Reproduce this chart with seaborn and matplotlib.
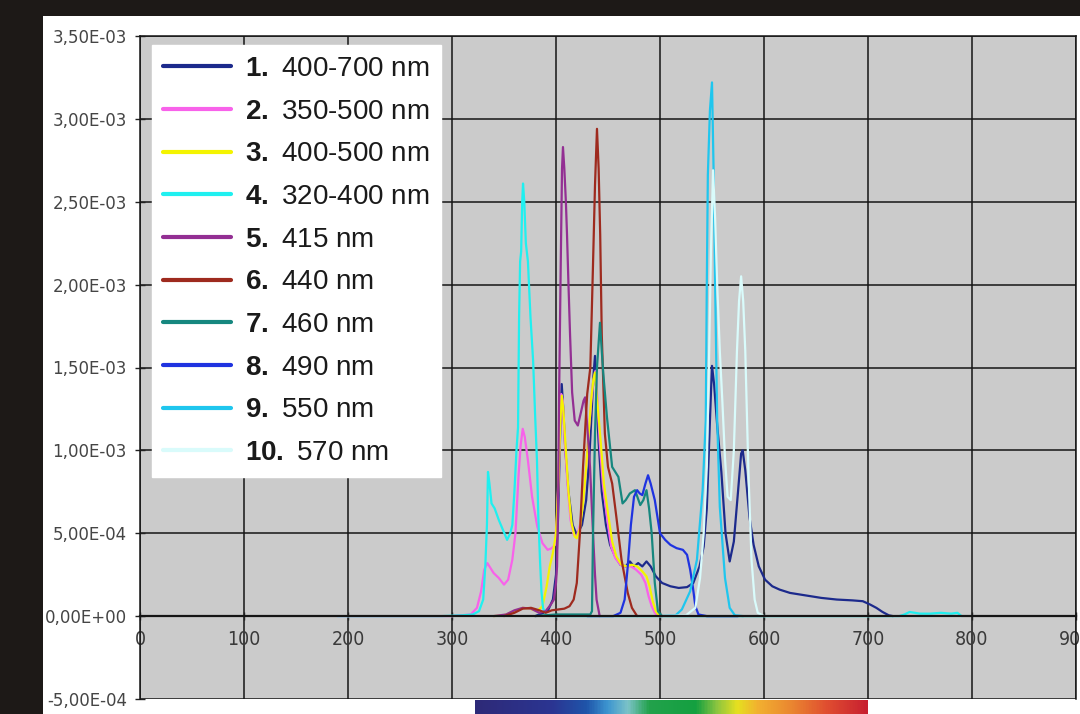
import numpy as np
import seaborn as sns
import matplotlib.pyplot as plt
from matplotlib.colors import LinearSegmentedColormap
from matplotlib.patches import Rectangle
from matplotlib.ticker import FuncFormatter

# spectra: wavelength (nm) and intensity in units of 1e-4
wl_1 = [380, 392, 397, 400, 402, 404, 405.5, 407, 409, 412, 416, 420, 425, 429, 432, 434, 436, 437.5, 439, 441,
        444, 448, 452, 457, 462, 467, 471, 475, 479, 483, 487, 491, 496, 502, 510, 518, 526, 532, 538, 542,
        545, 547, 549, 550, 552, 555, 559, 563, 567, 571, 575, 578, 579.5, 582, 586, 590, 595, 601, 608, 615,
        625, 640, 655, 670, 685, 695, 702, 708, 714, 720, 724]
val_1 = [0, 0.3, 1.0, 2.5, 6, 11, 14, 12.5, 10, 7.5, 5.5, 4.9, 5.5, 7, 9.5, 12, 14.5, 15.7, 13, 10.5,
         7.5, 5.5, 4.3, 3.6, 3.1, 3.0, 3.3, 3.0, 3.2, 3.0, 3.3, 3.0, 2.4, 2.0, 1.8, 1.7, 1.75, 2.0, 3.0, 4.2,
         6.5, 10, 13.5, 15.1, 14, 11.5, 8.7, 5, 3.3, 4.5, 7.5, 9.8, 10, 8.8, 6.0, 4.3, 3.0, 2.2, 1.8, 1.6,
         1.4, 1.25, 1.1, 1.0, 0.95, 0.9, 0.7, 0.5, 0.25, 0.05, 0]

wl_2 = [190, 300, 318, 324, 328, 331, 334, 336, 340, 345, 350, 354, 358, 361, 364, 366, 368, 370, 373, 377,
        382, 387, 392, 396, 399, 401, 403, 405, 406.5, 408, 411, 414, 417, 420, 423, 426, 429, 432, 434, 436,
        438, 440, 442, 445, 449, 453, 457, 462, 467, 472, 477, 482, 486, 489, 492, 495, 498, 502]
val_2 = [0, 0, 0.1, 0.5, 1.5, 2.8, 3.2, 3.0, 2.6, 2.3, 1.9, 2.2, 3.4, 5, 8.5, 10.3, 11.3, 10.8, 9.4, 7.2,
         5.4, 4.4, 4.0, 4.1, 4.3, 6, 9.5, 13.4, 13.0, 11, 8, 5.8, 4.9, 4.8, 5.5, 7, 9, 11.5, 13, 14.2,
         14.8, 13, 10.5, 8, 6, 4.2, 3.5, 3.1, 3.0, 3.0, 2.8, 2.5, 2.0, 1.2, 0.6, 0.2, 0, 0]

wl_3 = [340, 350, 360, 368, 375, 382, 387, 391, 394, 397, 400, 402, 404, 405.5, 407, 409, 412, 415, 418, 420,
        423, 426, 429, 432, 434, 436, 437.5, 439, 441, 443, 446, 450, 454, 458, 463, 468, 473, 478, 483, 487,
        490, 493, 496, 499, 502]
val_3 = [0, 0.05, 0.3, 0.5, 0.45, 0.3, 0.6, 1.8, 3, 3.8, 5, 7.5, 11.5, 13.3, 12.5, 10.5, 7.5, 5.6, 4.8, 4.7,
         5.3, 6.8, 9, 11.5, 13.2, 14.3, 14.7, 13.5, 12, 10.5, 8, 6.2, 4.5, 3.6, 3.1, 3.0, 3.1, 3.0, 2.7, 2.4,
         1.8, 0.9, 0.3, 0.05, 0]

wl_4 = [190, 290, 310, 320, 326, 330, 332, 333.6, 334.6, 336, 338, 341, 345, 349, 353, 356, 358, 360, 362, 363.5,
        364.5, 365.5, 366.5, 367.5, 368.3, 369.5, 371, 373, 375.5, 378, 380, 381.7, 383, 384.6, 386, 387.5, 390, 394,
        500, 600, 730, 735, 740, 745, 750, 760, 770, 780, 786, 790]
val_4 = [0, 0, 0.05, 0.1, 0.3, 1, 3, 5.5, 8.7, 8, 6.8, 6.5, 5.8, 5.2, 4.6, 5.0, 5.5, 7.5, 10, 11.4,
         18, 21.4, 22, 25, 26.1, 25, 22.5, 21.4, 18, 15.4, 12, 9.4, 6, 3.4, 1.5, 0.5, 0.1, 0,
         0, 0, 0, 0.1, 0.25, 0.2, 0.15, 0.15, 0.2, 0.15, 0.2, 0]

wl_5 = [340, 352, 360, 368, 376, 384, 390, 395, 398, 400, 401, 402, 403, 404.5, 405.8, 406.7, 408, 409.5, 410.6, 412,
        413.5, 415.5, 418, 421, 424, 426.5, 428, 430, 432.7, 435.6, 437.5, 439, 442]
val_5 = [0, 0.1, 0.35, 0.5, 0.45, 0.2, 0.3, 0.7, 1.0, 2.0, 3, 7, 13.4, 21, 27, 28.3, 27, 25, 23, 20,
         17, 13.5, 11.8, 11.5, 12.3, 13, 13.2, 11.5, 9, 5, 2.5, 1, 0]

wl_6 = [350, 360, 368, 376, 384, 390, 396, 402, 408, 413, 417, 420, 423, 426, 430, 433, 435.5, 437.5, 439.4, 441,
        442.5, 444, 447, 450, 454, 458, 463, 469, 473, 478]
val_6 = [0, 0.2, 0.45, 0.5, 0.35, 0.2, 0.35, 0.4, 0.45, 0.6, 1.0, 2.0, 5, 9, 13.4, 15, 21, 26, 29.4, 27,
         23, 17, 11, 9, 8, 6, 3.4, 1.4, 0.5, 0]

wl_7 = [380, 400, 420, 433, 434.6, 435.6, 437.5, 439.4, 441, 442.3, 444, 445.5, 449, 454, 460, 464, 467, 471, 476, 481,
        484, 487, 489.5, 492, 495, 498, 502]
val_7 = [0, 0.1, 0.1, 0.1, 0.3, 5, 11, 15, 16.5, 17.7, 16, 14.6, 12, 9, 8.4, 6.8, 7.0, 7.4, 7.6, 6.7,
         7.0, 7.6, 6.5, 5, 2, 0.3, 0]

wl_8 = [430, 455, 462, 466, 469, 472, 475, 478, 480.5, 483, 486, 488.5, 491, 495, 500, 505, 510, 516, 522, 526,
        529, 531.5, 534, 537, 545, 575]
val_8 = [0, 0, 0.2, 1.0, 3.0, 5.5, 7.2, 7.6, 7.4, 7.3, 8.0, 8.5, 8.0, 7.0, 5.0, 4.6, 4.3, 4.1, 4.0, 3.7,
         2.8, 1.8, 0.6, 0.1, 0, 0]

wl_9 = [500, 515, 521, 529, 535.5, 541, 544, 545, 546, 548, 550, 551.5, 553, 555, 557.5, 562.5, 567, 572, 580]
val_9 = [0, 0.05, 0.4, 1.5, 3.4, 7.6, 11.8, 20, 26.6, 30.5, 32.2, 27, 20, 11.8, 6.6, 2.3, 0.5, 0.05, 0]

wl_10 = [190, 500, 525, 534, 538.5, 542, 545, 547, 549, 551, 553, 555, 557.5, 560, 562.5, 565, 568, 571, 574, 576,
         578, 580, 582, 585, 588, 591, 594, 600, 700, 790]
val_10 = [0, 0, 0.05, 0.5, 2.3, 5, 9, 15, 22, 26.9, 24, 20, 16, 12.9, 9.5, 7.2, 7.0, 10, 16, 19,
          20.5, 19, 16, 8.7, 3.4, 1, 0.2, 0, 0, 0]

numbers = ['1', '2', '3', '4', '5', '6', '7', '8', '9', '10']
names = ['400-700 nm', '350-500 nm', '400-500 nm', '320-400 nm', '415 nm',
         '440 nm', '460 nm', '490 nm', '550 nm', '570 nm']
colors = ['#1c2a8c', '#f862ea', '#f4f400', '#1ff0f0', '#932f93',
          '#9e2a1e', '#16877f', '#1f33e0', '#1fc6ee', '#d9fbfb']

wls = [wl_1, wl_2, wl_3, wl_4, wl_5, wl_6, wl_7, wl_8, wl_9, wl_10]
vals = [val_1, val_2, val_3, val_4, val_5, val_6, val_7, val_8, val_9, val_10]

sns.set_theme(style='white')
plt.rcParams['font.family'] = ['DejaVu Sans']
plt.rcParams['mathtext.fontset'] = 'custom'
plt.rcParams['mathtext.rm'] = 'Liberation Sans'
plt.rcParams['mathtext.bf'] = 'Liberation Sans:bold'

fig = plt.figure(figsize=(10.8, 7.14), dpi=100, facecolor='#1d1917')
fig.patches.append(Rectangle((43 / 1080, 0), 1, 1 - 16 / 714, transform=fig.transFigure,
                             facecolor='white', edgecolor='none', zorder=-10))
ax = fig.add_axes([140 / 1080, 1 - 699 / 714, 936 / 1080, 663 / 714])
ax.set_facecolor('#cbcbcb')

for wl, v, c, n, name in zip(wls, vals, colors, numbers, names):
    sns.lineplot(x=wl, y=np.array(v) * 1e-4, color=c, lw=1.6, ax=ax,
                 estimator=None, sort=False, label=r'$\mathbf{' + n + r'.}$ ' + name)

ax.set_xlim(0, 900)
ax.set_ylim(-5e-4, 3.5e-3)
ax.set_xticks(np.arange(0, 901, 100))
ax.set_yticks(np.arange(-5e-4, 3.51e-3, 5e-4))
ax.yaxis.set_major_formatter(FuncFormatter(lambda v, p: ('%.2E' % v).replace('.', ',')))
ax.set_axisbelow(True)
ax.grid(True, color='#151515', lw=1.1)
ax.set_xlabel('')
ax.set_ylabel('')

for s in ax.spines.values():
    s.set_color('#151515')
    s.set_linewidth(1.1)
ax.spines['bottom'].set_position(('data', 0))
ax.spines['bottom'].set_linewidth(1.6)

ax.tick_params(axis='y', direction='inout', length=7, width=1, color='#222',
               labelsize=12, labelcolor='#454545', pad=6, left=True)
ax.tick_params(axis='x', direction='inout', length=6, width=1, color='#222',
               labelsize=14, labelcolor='#3a3a3a', pad=7, bottom=True)
for t in ax.get_xticklabels():
    t.set_fontstretch('condensed')

leg = ax.legend(loc='upper left', bbox_to_anchor=(12 / 936, 1 - 9 / 663), borderaxespad=0,
                frameon=True, fancybox=False, framealpha=1, edgecolor='white', facecolor='white',
                prop={'family': 'Liberation Sans', 'size': 20}, handlelength=2.45,
                handletextpad=0.5, labelspacing=0.6, borderpad=0.4)
for ln in leg.get_lines():
    ln.set_linewidth(3)
for t in leg.get_texts():
    t.set_color('#1a1a1a')

# visible-spectrum strip under the plot (320-700 nm)
spec = LinearSegmentedColormap.from_list('spec', [
    (0.0, '#2e2a78'), (0.196, '#2b3592'), (0.283, '#1f55aa'), (0.336, '#3d95d0'),
    (0.389, '#7cc3c8'), (0.442, '#23a24c'), (0.563, '#14a040'), (0.616, '#8cc540'),
    (0.669, '#e6e020'), (0.722, '#f2b030'), (0.81, '#ea8530'), (0.897, '#e04e30'),
    (1.0, '#c82030')])
cax = fig.add_axes([475 / 1080, 0, (868 - 475) / 1080, 14 / 714])
cax.imshow(np.linspace(0, 1, 400)[None, :], cmap=spec, aspect='auto')
cax.axis('off')

fig.savefig('out.png', dpi=100, facecolor=fig.get_facecolor())
